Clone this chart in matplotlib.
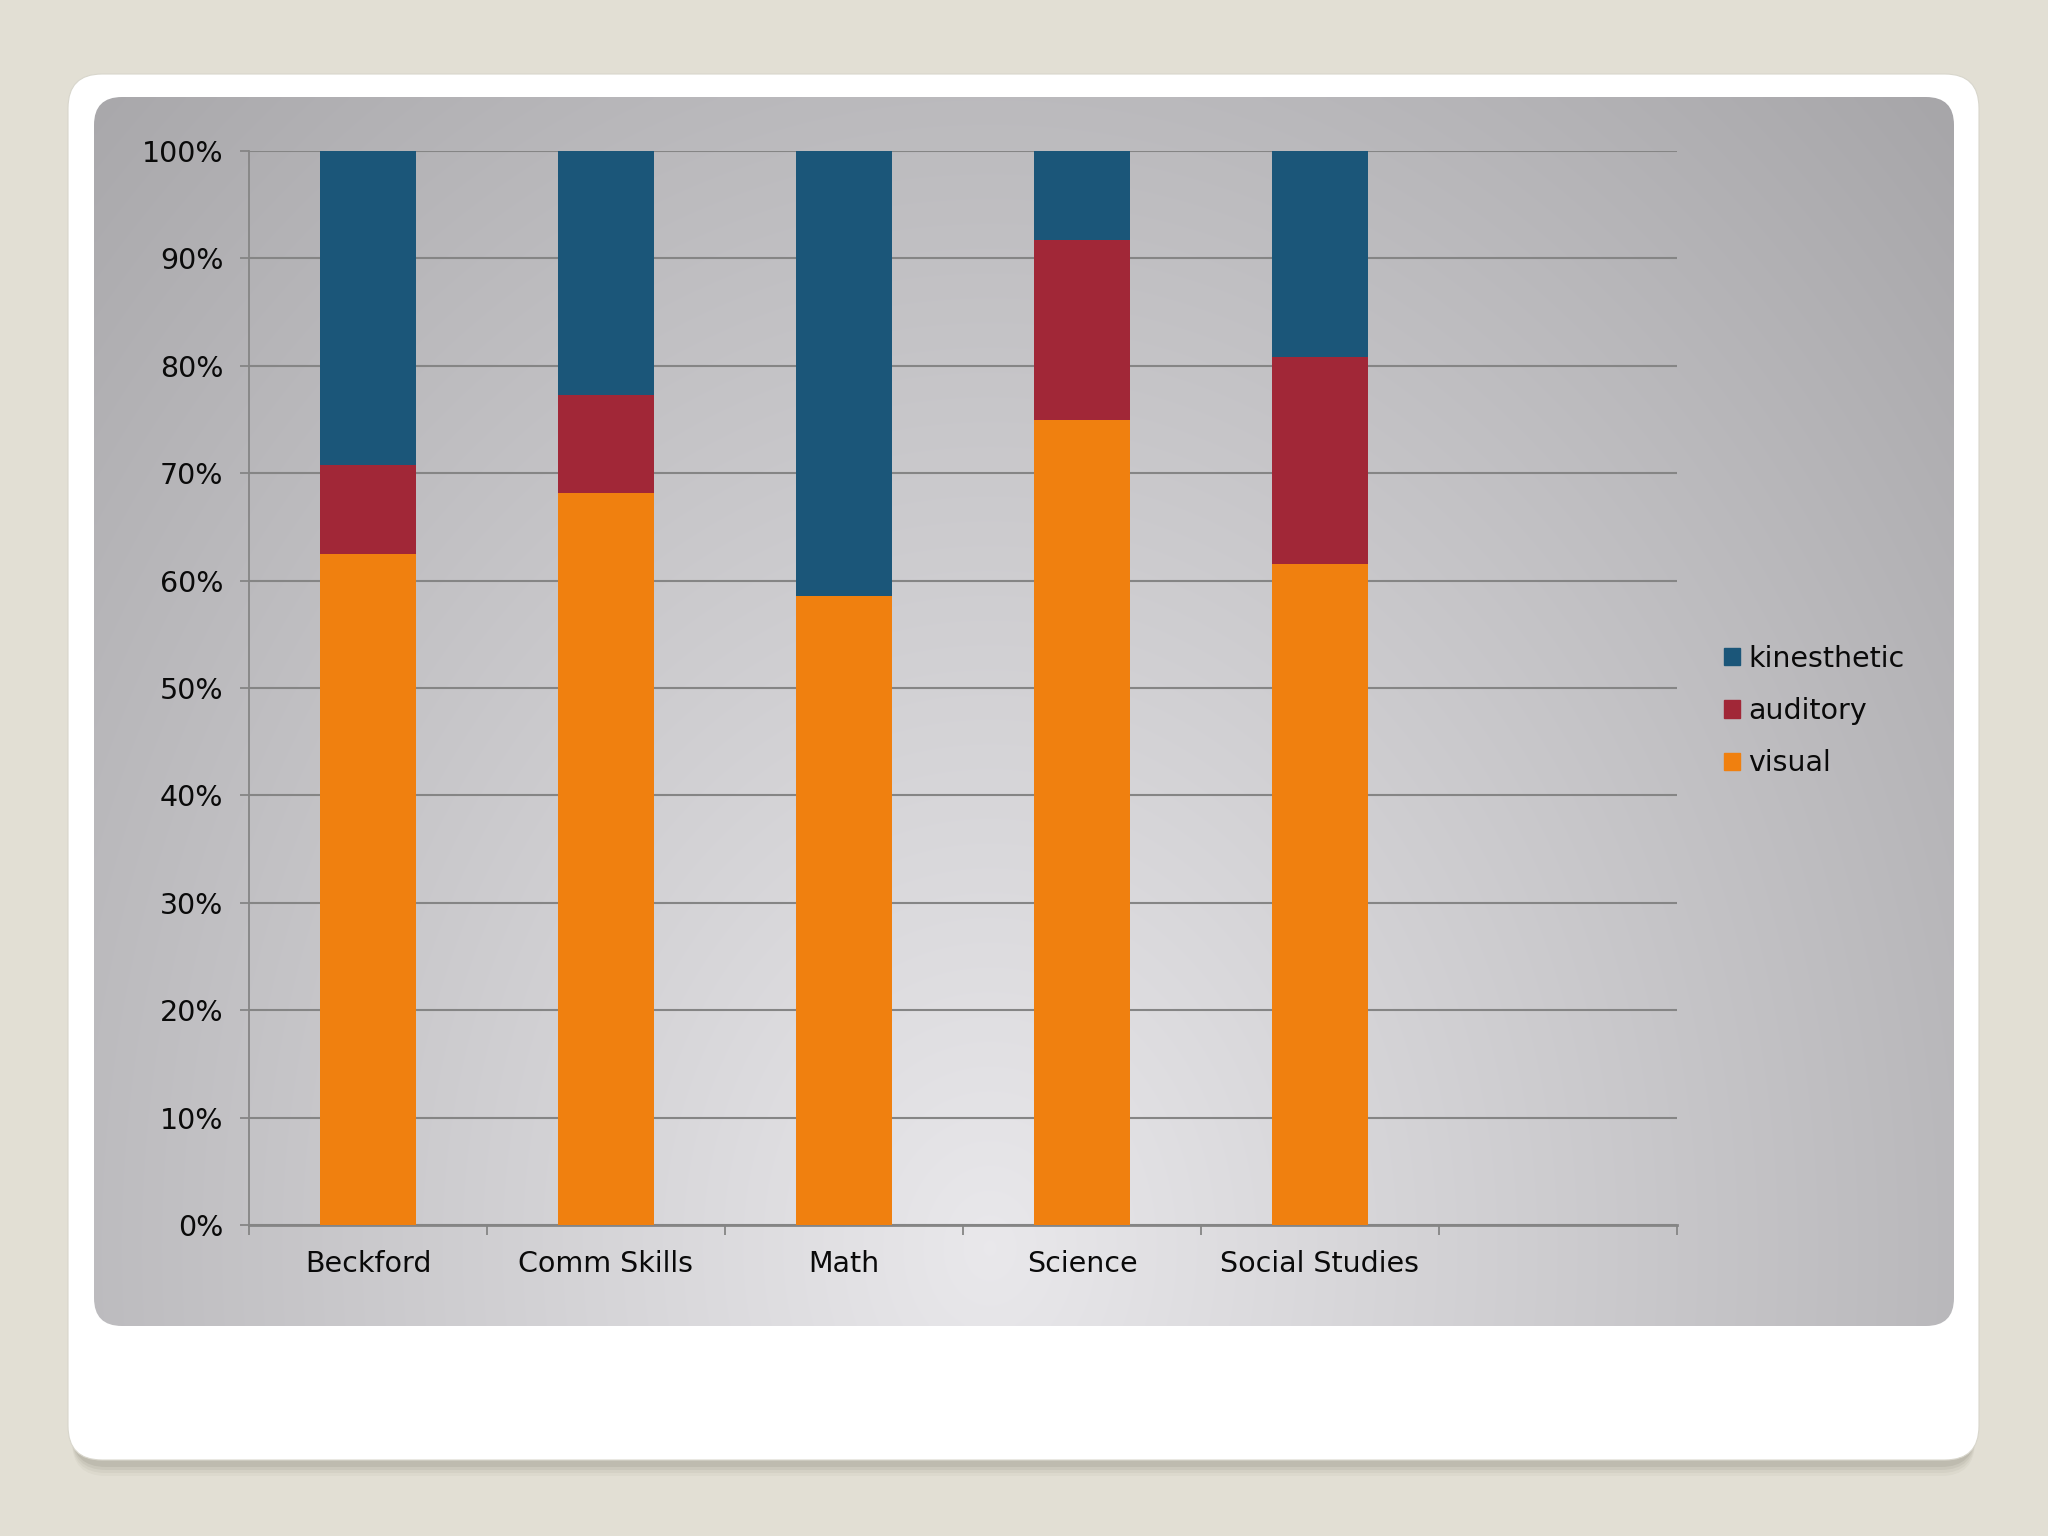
import numpy as np
import matplotlib.pyplot as plt
from matplotlib.patches import FancyBboxPatch, Patch

# data (shares of 100%)
subjects = ["Beckford", "Comm Skills", "Math", "Science", "Social Studies"]
visual = [62.5, 68.2, 58.6, 75.0, 61.5]
auditory = [8.3, 9.1, 0.0, 16.7, 19.3]
kinesthetic = [29.2, 22.7, 41.4, 8.3, 19.2]
yticks = [0, 10, 20, 30, 40, 50, 60, 70, 80, 90, 100]

c_vis = "#f0800f"
c_aud = "#a12737"
c_kin = "#1b5679"

W, H = 2048, 1536
fig = plt.figure(figsize=(W / 100, H / 100), dpi=100, facecolor="#e2dfd4")

# slide background: shadow, white card, gradient panel (pixel coordinates)
bg = fig.add_axes([0, 0, 1, 1])
bg.set_xlim(0, W)
bg.set_ylim(H, 0)
bg.axis("off")

for i, a in enumerate([0.05, 0.07, 0.09, 0.12]):
    off = 16 - i * 3
    sh = FancyBboxPatch((72, 80 + off), 1903, 1380, boxstyle="round,pad=0,rounding_size=34",
                        fc="#6d6a5c", ec="none", alpha=a)
    bg.add_patch(sh)

card = FancyBboxPatch((68, 74), 1911, 1386, boxstyle="round,pad=0,rounding_size=34",
                      fc="white", ec="#d8d6cc", lw=0.8)
bg.add_patch(card)

panel = FancyBboxPatch((94, 97), 1860, 1229, boxstyle="round,pad=0,rounding_size=28",
                       fc="none", ec="none")
bg.add_patch(panel)

xx, yy = np.meshgrid(np.linspace(94, 1954, 400), np.linspace(97, 1326, 300))
r = np.sqrt(((xx - 990) / 1050) ** 2 + ((yy - 1250) / 1300) ** 2)
v = 0.915 - 0.205 * np.clip(r, 0, 1.35)
img = np.dstack([v, v - 0.004, v + 0.008])
im = bg.imshow(np.clip(img, 0, 1), extent=(94, 1954, 1326, 97), interpolation="bilinear",
               aspect="auto", zorder=1)
im.set_clip_path(panel)

# chart
ax = fig.add_axes([249 / W, 1 - 1225 / H, 1428 / W, 1074 / H])
ax.set_facecolor("none")

x = np.arange(len(subjects))
bw = 0.4
vis = np.array(visual)
aud = np.array(auditory)
kin = np.array(kinesthetic)
ax.bar(x, vis, bw, color=c_vis, zorder=3, label="visual")
ax.bar(x, aud, bw, bottom=vis, color=c_aud, zorder=3, label="auditory")
ax.bar(x, kin, bw, bottom=vis + aud, color=c_kin, zorder=3, label="kinesthetic")

ax.set_xlim(-0.5, len(subjects) + 0.5)
ax.set_ylim(0, 100)
ax.set_yticks(yticks)
ax.set_yticklabels([f"{t}%" for t in yticks])
ax.yaxis.grid(True, color="#858585", lw=1.5, zorder=0)

ax.set_xticks(x)
ax.set_xticklabels(subjects)
ax.set_xticks(np.arange(-0.5, len(subjects) + 1, 1), minor=True)
ax.tick_params(axis="x", which="major", length=0, pad=18, labelsize=20.5, colors="#0a0a0a")
ax.tick_params(axis="x", which="minor", length=7, width=1.3, color="#858585")
ax.tick_params(axis="y", length=6.5, width=1.3, color="#858585", pad=12, labelsize=20.5,
               labelcolor="#0a0a0a")

for s in ["top", "right"]:
    ax.spines[s].set_visible(False)
ax.spines["left"].set_color("#858585")
ax.spines["left"].set_linewidth(1.3)
ax.spines["bottom"].set_color("#858585")
ax.spines["bottom"].set_linewidth(2)

handles = [Patch(color=c_kin), Patch(color=c_aud), Patch(color=c_vis)]
fig.legend(handles, ["kinesthetic", "auditory", "visual"], loc="center left",
           bbox_to_anchor=(1710 / W, 1 - 711 / H), frameon=False, fontsize=20.5,
           handlelength=0.55, handleheight=0.55, handletextpad=0.3, labelspacing=0.85,
           borderpad=0, labelcolor="#0a0a0a")

fig.savefig("out.png", dpi=100, facecolor=fig.get_facecolor())
